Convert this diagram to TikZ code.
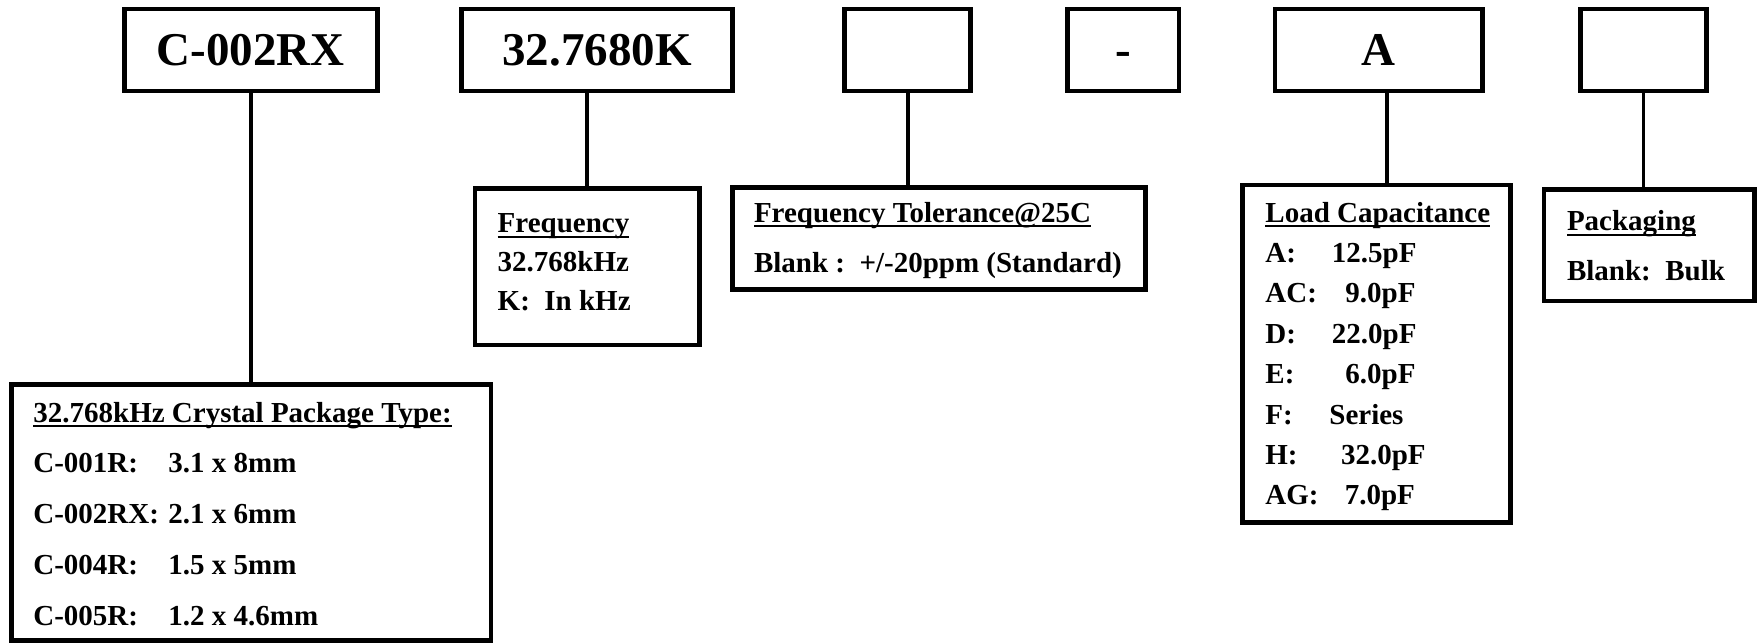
\documentclass[tikz,border=0pt]{standalone}
\usepackage{fontspec}
\setmainfont{Liberation Serif}
\newcommand\headul[1]{\setbox0=\hbox{#1}\rlap{\rule[-2.5pt]{\wd0}{1pt}}\box0}

\begin{document}
\begin{tikzpicture}[x=1pt,y=-1pt,
  partbox/.style={draw,line width=2.3pt,minimum height=41pt,inner sep=0pt,text height=15.6pt,text depth=0pt,font=\fontsize{23.5}{28}\selectfont\bfseries},
  infobox/.style={draw,line width=2.3pt,inner sep=0pt},
  infotext/.style={anchor=north west,align=left,inner sep=0pt,font=\fontsize{14.5}{#1}\selectfont\bfseries},
  conn/.style={line width=2pt}]

    \useasboundingbox (0,0) rectangle (879,321.5);

    % part number fields
    \foreach \name/\x/\w/\txt in {code/125.45/126.65/C-002RX, freq/298.5/135.5/32.7680K, tol/453.75/63/{}, dash/561.65/55.7/-, cap/689.4/103.75/A, pack/821.75/63/{}}
        \node[partbox,minimum width=\w pt] (\name) at (\x,25) {\txt};

    % explanation boxes
    \node[infobox,minimum width=239.8pt,minimum height=128pt] (codeinfo) at (125.5,256.25) {};
    \node[infobox,minimum width=112.25pt,minimum height=78.35pt] (freqinfo) at (293.6,133.3) {};
    \node[infobox,minimum width=206.65pt,minimum height=50.85pt] (tolinfo) at (469.5,119.2) {};
    \node[infobox,minimum width=134.15pt,minimum height=168.65pt] (capinfo) at (688.3,176.9) {};
    \node[infobox,minimum width=105.35pt,minimum height=55.8pt] (packinfo) at (824.6,122.5) {};

    \node[infotext=25.4] (codetxt) at (16.5,200.8) {\headul{32.768kHz Crystal Package Type:}\\
        \makebox[67.5pt][l]{C-001R:}3.1 x 8mm\\
        \makebox[67.5pt][l]{C-002RX:}2.1 x 6mm\\
        \makebox[67.5pt][l]{C-004R:}1.5 x 5mm\\
        \makebox[67.5pt][l]{C-005R:}1.2 x 4.6mm};
    \node[infotext=19.5] (freqtxt) at (248.65,106.65) {\headul{Frequency}\\ 32.768kHz\\ K:\ \ In kHz};
    \node[infotext=25] (toltxt) at (376.8,100.8) {\headul{Frequency Tolerance@25C}\\ Blank :\ \ +/-20ppm (Standard)};
    \node[infotext=20.2] (captxt) at (632.5,100.8) {\headul{Load Capacitance}\\
        \makebox[33.3pt][l]{A:}12.5pF\\
        \makebox[40pt][l]{AC:}9.0pF\\
        \makebox[33.3pt][l]{D:}22.0pF\\
        \makebox[40pt][l]{E:}6.0pF\\
        \makebox[32pt][l]{F:}Series\\
        \makebox[37.8pt][l]{H:}32.0pF\\
        \makebox[39.7pt][l]{AG:}7.0pF};
    \node[infotext=25] (packtxt) at (783.3,105) {\headul{Packaging}\\ Blank:\ \ Bulk};

    % connectors
    \draw[conn] (code.south) -- (code.south |- codeinfo.north);
    \draw[conn] (freqinfo.north |- freq.south) -- (freqinfo.north);
    \draw[conn] (tol.south) -- (tol.south |- tolinfo.north);
    \draw[conn] ([xshift=4pt]cap.south) -- ([xshift=4pt]cap.south |- capinfo.north);
    \draw[conn,line width=1.2pt] (pack.south) -- (pack.south |- packinfo.north);
\end{tikzpicture}
\end{document}
